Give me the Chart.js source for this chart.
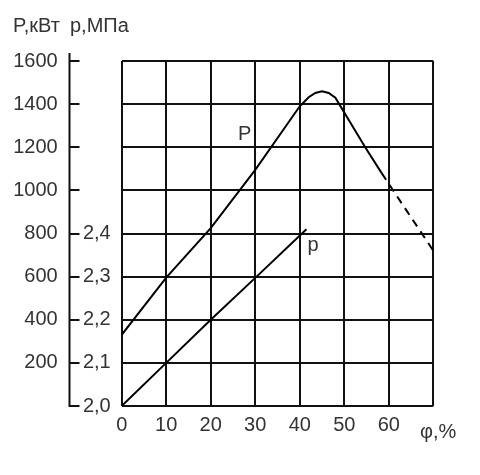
<!DOCTYPE html>
<html>
<head>
<meta charset="utf-8">
<script src="https://cdn.jsdelivr.net/npm/chart.js@4/dist/chart.umd.min.js"></script>
<style>
  body { margin: 0; background: #fff; }
  canvas { display: block; }
</style>
</head>
<body>
<canvas id="chart" width="480" height="475"></canvas>
<script>
// мощность P, кВт (сплошная часть и пунктирное продолжение)
const phiP = [0, 10, 20, 30, 40, 42, 43.5, 45, 46.5, 48, 54.7, 58.4];
const powerP = [330, 595, 825, 1095, 1390, 1432, 1452, 1460, 1452, 1430, 1200, 1080];
const phiPDash = [58.4, 70];
const powerPDash = [1080, 720];
// давление p, МПа
const phiPress = [0, 10, 20, 30.3, 41.5];
const pressure = [2.0, 2.1, 2.2, 2.3, 2.41];
// подписи осей
const xTicks = [0, 10, 20, 30, 40, 50, 60];
const powerTicks = [200, 400, 600, 800, 1000, 1200, 1400, 1600];
const pressTicks = [2.0, 2.1, 2.2, 2.3, 2.4];

const toPts = (xs, ys) => xs.map((x, i) => ({ x: x, y: ys[i] }));
const FONT = 'Liberation Sans, Arial, sans-serif';
const TXT = '#333';
const LINE = '#111';

// левая ось с рисками и надписи
const extras = {
  id: 'extras',
  afterDraw(chart) {
    const ctx = chart.ctx;
    const area = chart.chartArea;
    const y = chart.scales.y;
    const x = chart.scales.x;
    const ax = Math.round(y.right) + 0.5;
    ctx.save();
    ctx.strokeStyle = LINE;
    ctx.lineWidth = 2;
    ctx.beginPath();
    ctx.moveTo(ax, area.top - 8);
    ctx.lineTo(ax, area.bottom + 1);
    for (let v = 0; v <= 1600; v += 200) {
      const py = Math.round(y.getPixelForValue(v));
      ctx.moveTo(ax - 1, py);
      ctx.lineTo(ax + 10, py);
    }
    ctx.stroke();

    ctx.fillStyle = TXT;
    ctx.textBaseline = 'alphabetic';
    ctx.textAlign = 'left';
    ctx.font = '20px ' + FONT;
    ctx.fillText('P,кВт', 13, 32);
    ctx.fillText('р,МПа', 70, 32);
    ctx.fillText('φ,%', 420, 438);

    ctx.textAlign = 'center';
    ctx.fillText('P', x.getPixelForValue(27.6), y.getPixelForValue(1233));
    ctx.fillText('р', x.getPixelForValue(43), y.getPixelForValue(718));
    ctx.restore();
  }
};

new Chart(document.getElementById('chart'), {
  type: 'line',
  data: {
    datasets: [
      { data: toPts(phiP, powerP), yAxisID: 'y', borderColor: '#000', borderWidth: 2, pointRadius: 0, tension: 0 },
      { data: toPts(phiPDash, powerPDash), yAxisID: 'y', borderColor: '#000', borderWidth: 2, borderDash: [8, 6], pointRadius: 0 },
      { data: toPts(phiPress, pressure), yAxisID: 'yp', borderColor: '#000', borderWidth: 2, pointRadius: 0, tension: 0 }
    ]
  },
  options: {
    responsive: false,
    animation: false,
    devicePixelRatio: 1,
    layout: { padding: { top: 61, right: 46.7, bottom: 29, left: 12.7 } },
    plugins: { legend: { display: false }, tooltip: { enabled: false } },
    scales: {
      x: {
        type: 'linear', min: 0, max: 70,
        afterBuildTicks: s => { s.ticks = xTicks.concat([70]).map(v => ({ value: v })); },
        ticks: { callback: v => xTicks.includes(v) ? v : '', padding: 7, color: TXT, font: { size: 20, family: FONT }, maxRotation: 0 },
        grid: { color: LINE, lineWidth: 2, drawTicks: false },
        border: { display: false },
        afterFit: s => { s.height = 40; }
      },
      y: {
        type: 'linear', position: 'left', min: 0, max: 1600, weight: 2,
        afterBuildTicks: s => { s.ticks = [0].concat(powerTicks).map(v => ({ value: v })); },
        ticks: { callback: v => powerTicks.includes(v) ? v : '', padding: 11, color: TXT, font: { size: 20, family: FONT } },
        grid: { color: LINE, lineWidth: 2, drawTicks: false },
        border: { display: false },
        afterFit: s => { s.width = 56; }
      },
      yp: {
        type: 'linear', position: 'left', min: 2.0, max: 2.8, weight: 1,
        afterBuildTicks: s => { s.ticks = pressTicks.map(v => ({ value: v })); },
        ticks: { callback: v => v.toFixed(1).replace('.', ','), padding: 11, color: TXT, font: { size: 20, family: FONT } },
        grid: { display: false, drawTicks: false },
        border: { display: false },
        afterFit: s => { s.width = 53; }
      }
    }
  },
  plugins: [extras]
});
</script>
</body>
</html>
